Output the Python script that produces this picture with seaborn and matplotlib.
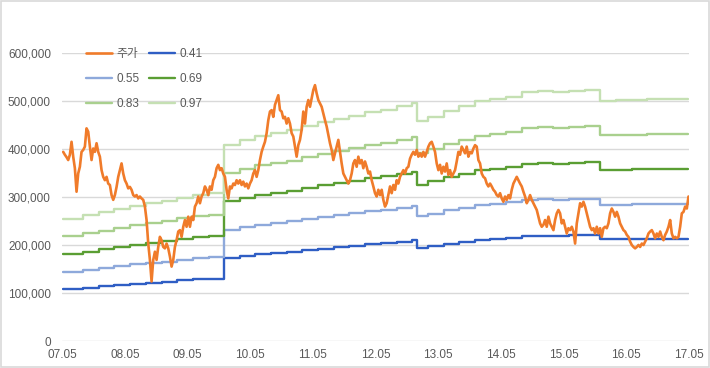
import matplotlib
matplotlib.use("Agg")
import matplotlib.pyplot as plt
import matplotlib.dates as mdates
from matplotlib.patches import Rectangle
from matplotlib.ticker import FuncFormatter
import seaborn as sns
import pandas as pd

# stock price (thousand KRW), sampled evenly from 2007-05 to 2017-04
price = [
    394, 388, 383, 377, 388, 415, 384, 360, 311, 349, 363, 394, 398, 405, 443, 436,
    405, 377, 401, 394, 412, 394, 384, 356, 342, 335, 342, 328, 325, 304, 294, 304,
    321, 342, 356, 370, 349, 335, 328, 318, 321, 315, 304, 301, 304, 297, 301, 297,
    294, 280, 252, 203, 169, 124, 169, 186, 169, 196, 217, 210, 196, 193, 203, 193,
    176, 155, 169, 196, 210, 228, 231,
    217, 238, 252, 238, 259, 238, 259, 252, 280, 287, 301, 287, 301, 308, 322, 315,
    304, 322, 315, 335, 342, 360, 367, 356, 360, 349, 342, 315, 297, 322, 318, 328,
    325, 335, 328, 335, 325, 332, 322, 328, 318, 328, 335, 349, 356, 342, 356, 377,
    394, 405, 415, 433, 460, 478, 481, 467, 492, 502, 512, 481, 478, 464, 467, 453,
    464, 453, 433, 426, 405, 384, 408,
    419, 440, 478, 453, 488, 502, 488, 506, 523, 533, 516, 502, 495, 488, 474, 460,
    447, 429, 412, 398, 377, 391, 405, 419, 394, 370, 349, 342, 335, 328, 335, 349,
    370, 377, 363, 384, 370, 377, 360, 374, 363, 349, 353, 335, 322, 308, 301, 315,
    304, 315, 294, 280, 287, 304, 322, 308, 325, 315, 335, 328, 342, 349, 356, 349,
    360, 363, 380, 388, 394, 388, 398, 384, 391, 384, 394,
    384, 394, 405, 412, 415, 405, 394, 370, 356, 367, 349, 363, 353, 370, 346, 356,
    342, 349, 356, 374, 394, 388, 405, 398, 391, 405, 384, 394, 391, 401, 408, 405,
    377, 370, 349, 342, 339, 328, 322, 328, 322, 315, 311, 304, 301, 308, 297, 290,
    301, 294, 304, 297, 315, 328, 335, 342, 335, 328, 322, 311, 301, 287, 294, 304,
    294, 287, 280, 273, 259, 245, 238, 242, 252, 238, 259, 245, 238, 231,
    252, 266, 273, 266, 245, 252, 238, 224, 235, 231, 238, 228, 203, 245, 266, 287,
    280, 290, 280, 266, 252, 238, 231, 235, 224, 238, 224, 235, 217, 235, 238, 235,
    245, 266, 276, 269, 259, 269, 259, 245, 238, 231, 228, 221, 217, 207, 200, 196,
    193, 196, 200, 196, 203, 200, 207, 214, 224, 228, 231, 224, 214, 224, 217, 228,
    217, 210, 221, 228, 238, 252, 224, 214, 217, 214, 217, 238, 266, 269, 280, 276,
    301,
]
price_start = "2007-05-08"
price_end = "2017-04-28"

# book value per share (thousand KRW), quarterly steps
bps_dates = [
    "2007-05-08", "2007-09-01", "2007-12-01", "2008-03-01", "2008-06-01", "2008-09-01",
    "2008-12-01", "2009-03-01", "2009-06-01", "2009-09-01", "2009-12-01", "2010-03-01",
    "2010-06-01", "2010-09-01", "2010-12-01", "2011-03-01", "2011-06-01", "2011-09-01",
    "2011-12-01", "2012-03-01", "2012-06-01", "2012-09-01", "2012-12-01", "2012-12-28",
    "2013-03-01", "2013-06-01", "2013-09-01", "2013-12-01", "2014-03-01", "2014-06-01",
    "2014-09-01", "2014-12-01", "2015-03-01", "2015-06-01", "2015-09-01", "2015-12-01",
    "2016-03-01", "2016-06-01", "2016-09-01", "2016-12-01", "2017-03-01", "2017-04-28",
]
bps = [
    263, 270, 277, 284, 290, 296, 301, 308, 313, 317, 422, 432,
    441, 447, 453, 462, 470, 477, 484, 491, 497, 504, 511, 472,
    482, 495, 504, 515, 520, 525, 534, 536, 535, 538, 539, 516,
    517, 518, 519, 520, 520, 520,
]

multiples = ["0.41", "0.55", "0.69", "0.83", "0.97"]
band_colors = ["#2F5EC4", "#8EA9DB", "#5A9E33", "#A9D08E", "#C5E0B3"]
price_color = "#F07B2A"

price_df = pd.DataFrame({
    "date": pd.date_range(price_start, price_end, periods=len(price)),
    "value": [p * 1000 for p in price],
})
band_rows = []
for m in multiples:
    for d, b in zip(bps_dates, bps):
        band_rows.append({"date": pd.Timestamp(d), "band": m, "value": float(m) * b * 1000})
band_df = pd.DataFrame(band_rows)

sns.set_style("white")
font = ["Liberation Sans Narrow", "Liberation Sans", "Noto Sans CJK KR"]
plt.rcParams["font.family"] = font

fig = plt.figure(figsize=(7.1, 3.68), dpi=100)
ax = fig.add_axes([62 / 710, 27 / 368, 627 / 710, 288 / 368])
fig.add_artist(Rectangle((0.001, 0.002), 0.997, 0.995, transform=fig.transFigure,
                         fill=False, edgecolor="#D9D9D9", linewidth=1.2))

sns.lineplot(data=price_df, x="date", y="value", color=price_color, linewidth=1.9,
             ax=ax, label="주가", zorder=5)
for m, c in zip(multiples, band_colors):
    sub = band_df[band_df["band"] == m]
    sns.lineplot(data=sub, x="date", y="value", color=c, linewidth=1.7,
                 drawstyle="steps-post", ax=ax, label=m, zorder=3)

ax.set_xlim(pd.Timestamp("2007-05-01"), pd.Timestamp("2017-05-01"))
ax.set_ylim(0, 600000)
ax.set_yticks(range(0, 600001, 100000))
ax.yaxis.set_major_formatter(FuncFormatter(lambda v, _: f"{int(v):,}"))
ax.xaxis.set_major_locator(mdates.MonthLocator(bymonth=5, bymonthday=1))
ax.xaxis.set_major_formatter(mdates.DateFormatter("%y.%m"))
ax.grid(axis="y", color="#D9D9D9", linewidth=1)
ax.grid(axis="x", visible=False)
for s in ax.spines.values():
    s.set_visible(False)
ax.tick_params(axis="both", length=0, labelsize=8.5, labelcolor="#595959")
ax.tick_params(axis="y", pad=8)
ax.tick_params(axis="x", pad=6)
ax.set_xlabel("")
ax.set_ylabel("")

h, l = ax.get_legend_handles_labels()
order = [0, 2, 4, 1, 3, 5]
leg = ax.legend([h[i] for i in order], [l[i] for i in order], ncol=2, frameon=False,
                loc="upper left", bbox_to_anchor=(0.022, 1.055),
                labelcolor="#595959", handlelength=2.2, handletextpad=0.35,
                columnspacing=0.8, labelspacing=1.1, prop={"family": font, "size": 8.5})

fig.savefig("out.png", dpi=100)
